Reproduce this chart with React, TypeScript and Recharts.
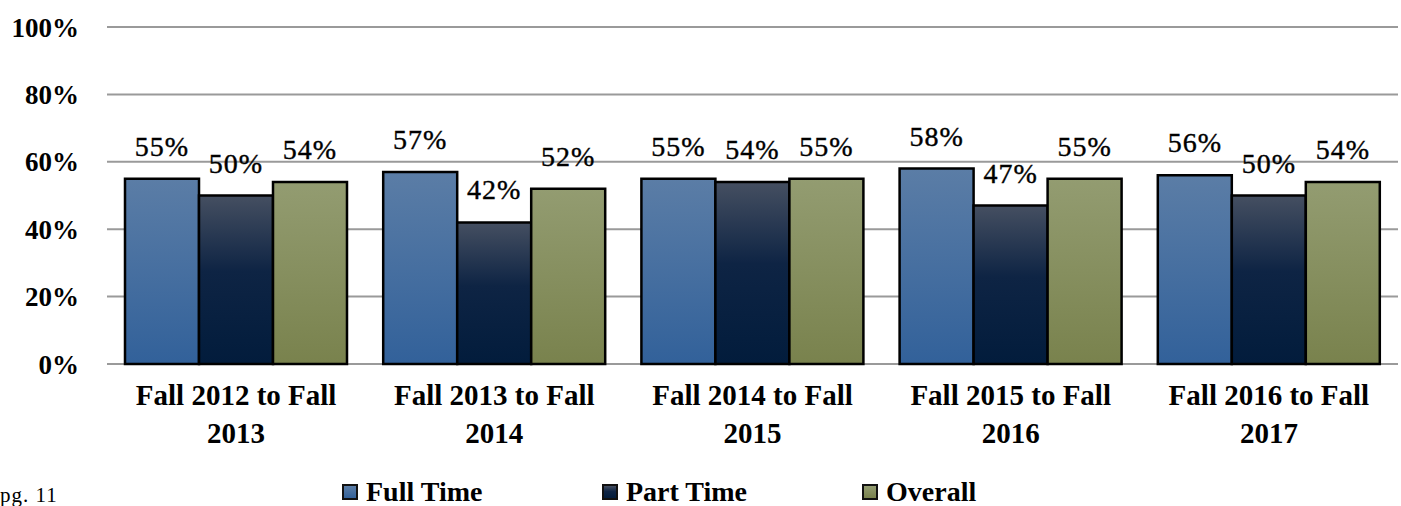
import React from "react";
import {
  BarChart,
  Bar,
  XAxis,
  YAxis,
  CartesianGrid,
  Legend,
  LabelList,
} from "recharts";

const categories = [
  "Fall 2012 to Fall 2013",
  "Fall 2013 to Fall 2014",
  "Fall 2014 to Fall 2015",
  "Fall 2015 to Fall 2016",
  "Fall 2016 to Fall 2017",
];
const fullTime = [55, 57, 55, 58, 56];
const partTime = [50, 42, 54, 47, 50];
const overall = [54, 52, 55, 55, 54];
const yTicks = [0, 20, 40, 60, 80, 100];

const seriesList = [
  { key: "fullTime", name: "Full Time", grad: "ftGrad", css: "linear-gradient(#5b7da6, #32619a)" },
  { key: "partTime", name: "Part Time", grad: "ptGrad", css: "linear-gradient(#454f61, #0e2444 45%, #021c3c)" },
  { key: "overall", name: "Overall", grad: "ovGrad", css: "linear-gradient(#939c71, #79824d)" },
];

const data = categories.map((c, i) => ({
  name: c,
  fullTime: fullTime[i],
  partTime: partTime[i],
  overall: overall[i],
}));

const serif = '"Liberation Serif", "Times New Roman", serif';

// category label in two lines, breaking before the final year
const CategoryTick = (props: any) => {
  const { x, y, payload } = props;
  const text: string = payload.value;
  const cut = text.lastIndexOf(" ");
  return (
    <g>
      <text x={x} y={y + 41} textAnchor="middle" fontFamily={serif} fontSize={29} fontWeight="bold" fill="#000">
        {text.slice(0, cut)}
      </text>
      <text x={x} y={y + 79} textAnchor="middle" fontFamily={serif} fontSize={29} fontWeight="bold" fill="#000">
        {text.slice(cut + 1)}
      </text>
    </g>
  );
};

const ValueLabel = (props: any) => {
  const { x, y, width, value } = props;
  return (
    <text
      x={x + width / 2}
      y={y - 23}
      textAnchor="middle"
      fontFamily={serif}
      fontSize={28}
      letterSpacing={1}
      stroke="#000"
      strokeWidth={0.4}
      fill="#000"
    >
      {`${Math.round(value)}%`}
    </text>
  );
};

const LegendContent = () => (
  <div style={{ display: "flex", paddingLeft: 342 }}>
    {seriesList.map((s) => (
      <div key={s.key} style={{ width: 260, display: "flex", alignItems: "center" }}>
        <span
          style={{
            width: 12,
            height: 12,
            background: s.css,
            border: "2px solid #111",
            marginRight: 8,
            display: "inline-block",
          }}
        />
        <span style={{ fontFamily: serif, fontSize: 28, fontWeight: "bold", lineHeight: "28px" }}>
          {s.name}
        </span>
      </div>
    ))}
  </div>
);

export default function App() {
  return (
    <div style={{ position: "absolute", left: 0, top: 0, width: 1401, height: 506, overflow: "hidden", background: "#fff" }}>
      <BarChart
        width={1401}
        height={506}
        data={data}
        margin={{ top: 27, right: 3, bottom: 0, left: 0 }}
        barGap={0}
        barCategoryGap={18}
      >
        <defs>
          <linearGradient id="ftGrad" x1="0" y1="0" x2="0" y2="1">
            <stop offset="0%" stopColor="#5b7da6" />
            <stop offset="100%" stopColor="#32619a" />
          </linearGradient>
          <linearGradient id="ptGrad" x1="0" y1="0" x2="0" y2="1">
            <stop offset="0%" stopColor="#454f61" />
            <stop offset="45%" stopColor="#0e2444" />
            <stop offset="100%" stopColor="#021c3c" />
          </linearGradient>
          <linearGradient id="ovGrad" x1="0" y1="0" x2="0" y2="1">
            <stop offset="0%" stopColor="#939c71" />
            <stop offset="100%" stopColor="#79824d" />
          </linearGradient>
        </defs>
        <CartesianGrid vertical={false} stroke="#9a9a9a" strokeWidth={2} />
        <XAxis
          dataKey="name"
          height={142}
          axisLine={false}
          tickLine={false}
          tickSize={0}
          tickMargin={0}
          interval={0}
          tick={<CategoryTick />}
        />
        <YAxis
          width={107}
          domain={[0, 100]}
          ticks={yTicks}
          axisLine={false}
          tickLine={false}
          tickSize={0}
          tickMargin={28}
          tickFormatter={(v: number) => `${v}%`}
          tick={{ fontFamily: serif, fontSize: 27, fontWeight: "bold", fill: "#000" }}
        />
        <Legend
          layout="horizontal"
          verticalAlign="middle"
          align="center"
          wrapperStyle={{ top: 478, left: 0, width: 1401 }}
          content={<LegendContent />}
        />
        {seriesList.map((s) => (
          <Bar
            key={s.key}
            dataKey={s.key}
            name={s.name}
            fill={`url(#${s.grad})`}
            stroke="#000"
            strokeWidth={2.5}
            isAnimationActive={false}
          >
            <LabelList dataKey={s.key} content={<ValueLabel />} />
          </Bar>
        ))}
      </BarChart>
      <div
        style={{
          position: "absolute",
          left: 0,
          top: 484,
          fontFamily: serif,
          fontSize: 21,
          lineHeight: "22px",
          letterSpacing: 1,
          color: "#000",
        }}
      >
        pg. 11
      </div>
    </div>
  );
}
